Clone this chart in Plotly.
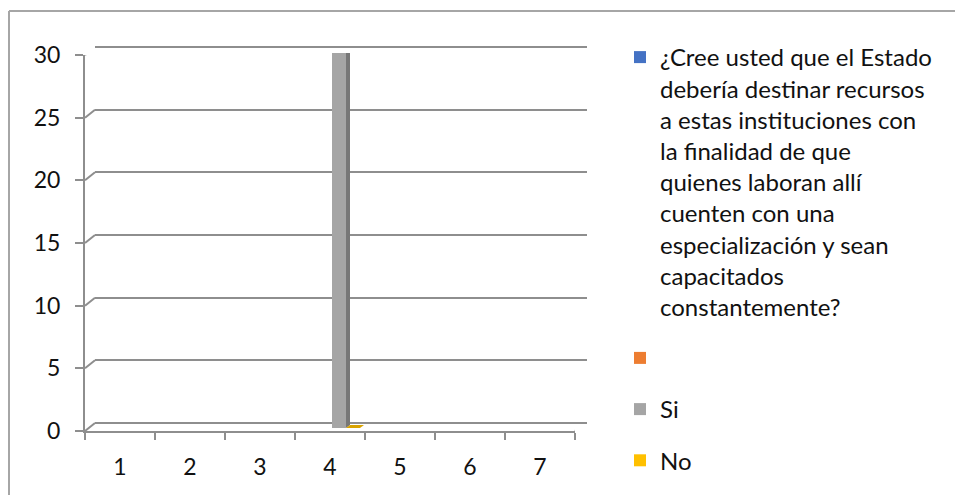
import plotly.graph_objects as go

# ---- datos ----
categorias = ["1", "2", "3", "4", "5", "6", "7"]
serie_pregunta = [None, None, None, None, None, None, None]
serie_vacia = [None, None, None, None, None, None, None]
serie_si = [None, None, None, 30, None, None, None]
serie_no = [None, None, None, 0, None, None, None]

nombre_pregunta = ("¿Cree usted que el Estado<br>debería destinar recursos<br>"
                   "a estas instituciones con<br>la finalidad de que<br>"
                   "quienes laboran allí<br>cuenten con una<br>"
                   "especialización y sean<br>capacitados<br>constantemente?")
nombres = [nombre_pregunta, " ", "Si", "No"]
series = [serie_pregunta, serie_vacia, serie_si, serie_no]
colores = ["#4472C4", "#ED7D31", "#A5A5A5", "#FFC000"]
color_lado = ["#2F5597", "#C55A11", "#777777", "#BF9000"]
color_techo = ["#3A62AE", "#D86A20", "#8C8C8C", "#D9A300"]
marcas_y = [0, 5, 10, 15, 20, 25, 30]

# ---- geometria (px) ----
W, H = 955, 495
ML, MT = 85, 40
PW, PH = 505, 391            # area de trazado: x 85..590, y 40..431
Y_MAX = 30
N_CAT = len(categorias)
BARGAP = 0.2
SLOT = (1 - BARGAP) / len(series)

GRIS = "#8E8E8E"
TEXTO = "#111111"
FUENTE = "Lato"


def dom_x(x0, x1):
    return [(x0 - ML) / PW, (x1 - ML) / PW]


def dom_y(y_abajo, y_arriba):
    return [(MT + PH - y_abajo) / PH, (MT + PH - y_arriba) / PH]


# cara frontal (ejes): x 85..575, valor 0 en y=431, valor 30 en y=55
FX0, FX1, FY0, FY30 = 85, 575, 431, 55
# pared del fondo: x 95..587, valor 0 en y=423, valor 30 en y=47
BX0, BX1, BY0, BY30 = 95, 587, 423, 47
# plano de las columnas: x 87..577, valor 0 en y=428, valor 30 en y=53
CX0, CX1, CY0, CY30 = 87, 577, 428, 53

CAT_PX = (CX1 - CX0) / N_CAT
SLOT_PX = SLOT * CAT_PX
UNID = Y_MAX / (CY0 - CY30)       # unidades por pixel
LADO_PX = 4
LADO_DY = 3 * UNID

# margen de rango para que las lineas de 0 y 30 del fondo se dibujen
PAD = 0.4
esc_fondo = (BY0 - BY30) / Y_MAX

fig = go.Figure()

# subgrafico de la pared del fondo (solo cuadricula)
fig.add_trace(go.Scatter(x=[], y=[], xaxis="x", yaxis="y", mode="markers",
                         showlegend=False, hoverinfo="skip"))

for k, (nombre, valores, color) in enumerate(zip(nombres, series, colores)):
    fig.add_trace(go.Bar(
        x=categorias, y=valores, name=nombre, legendgroup=f"g{k}",
        marker=dict(color=color, line=dict(width=0)),
        xaxis="x2", yaxis="y2",
    ))

shapes = []

# caras laterales y superiores de las columnas
for i, valores in enumerate(series):
    for c, v in enumerate(valores):
        if v is None:
            continue
        borde_der = c - (1 - BARGAP) / 2 + SLOT * (i + 1)
        if v > 0:
            shapes.append(dict(
                type="path", xref="x2", yref="y2", xsizemode="pixel", xanchor=borde_der,
                path=f"M0,0 L{LADO_PX},{LADO_DY} L{LADO_PX},{v + LADO_DY} L0,{v} Z",
                fillcolor=color_lado[i], line=dict(width=0),
            ))
        shapes.append(dict(
            type="path", xref="x2", yref="y2", xsizemode="pixel", xanchor=borde_der,
            path=(f"M{-SLOT_PX},{v} L0,{v} L{LADO_PX},{v + LADO_DY} "
                  f"L{-SLOT_PX + LADO_PX},{v + LADO_DY} Z"),
            fillcolor=color_techo[i], line=dict(width=0),
        ))

# uniones entre el eje frontal y la pared del fondo
esc_frente = (FY0 - FY30) / Y_MAX
for v in marcas_y:
    dy = (FY0 - v * esc_frente) - (BY0 - v * esc_fondo)
    shapes.append(dict(
        type="line", xref="x3", yref="y3", xsizemode="pixel", ysizemode="pixel",
        xanchor=0.5, yanchor=v, x0=0, x1=BX0 - FX0, y0=0, y1=dy,
        line=dict(color=GRIS, width=2),
    ))
shapes.append(dict(
    type="line", xref="x3", yref="y3", xsizemode="pixel", ysizemode="pixel",
    xanchor=N_CAT + 0.5, yanchor=0, x0=0, x1=BX1 - FX1, y0=0, y1=FY0 - BY0,
    line=dict(color=GRIS, width=2),
))

# marco exterior
px = lambda X: (X - ML) / PW
py = lambda Y: (MT + PH - Y) / PH
shapes.append(dict(type="line", xref="paper", yref="paper",
                   x0=px(9), x1=px(970), y0=py(11), y1=py(11),
                   line=dict(color="#A6A6A6", width=2)))
shapes.append(dict(type="line", xref="paper", yref="paper",
                   x0=px(9), x1=px(9), y0=py(11), y1=py(510),
                   line=dict(color="#A6A6A6", width=2)))

fig.update_layout(
    width=W, height=H,
    margin=dict(l=ML, r=W - ML - PW, t=MT, b=H - MT - PH, pad=0),
    paper_bgcolor="white", plot_bgcolor="rgba(0,0,0,0)",
    font=dict(family=FUENTE, size=23, color=TEXTO),
    barmode="group", bargap=BARGAP, bargroupgap=0,
    showlegend=True,
    legend=dict(
        x=px(620), y=py(35), xanchor="left", yanchor="top",
        font=dict(family=FUENTE, size=24, color=TEXTO),
        valign="top", tracegroupgap=17, traceorder="grouped",
        itemclick=False, itemdoubleclick=False,
        bgcolor="rgba(0,0,0,0)", maxheight=480,
    ),
    shapes=shapes,
    # pared del fondo
    xaxis=dict(domain=dom_x(BX0, BX1), anchor="y", range=[0, 1],
               showgrid=False, zeroline=False, showticklabels=False, ticks=""),
    yaxis=dict(domain=dom_y(BY0 + PAD * esc_fondo, BY30 - PAD * esc_fondo), anchor="x",
               range=[-PAD, Y_MAX + PAD],
               tickmode="array", tickvals=marcas_y,
               showgrid=True, gridcolor=GRIS, gridwidth=2,
               zeroline=False, showticklabels=False, ticks=""),
    # columnas
    xaxis2=dict(domain=dom_x(CX0, CX1), anchor="y2",
                type="category", categoryarray=categorias, range=[-0.5, N_CAT - 0.5],
                visible=False),
    yaxis2=dict(domain=dom_y(CY0, CY30), anchor="x2",
                range=[0, Y_MAX], visible=False),
    # ejes frontales
    xaxis3=dict(domain=dom_x(FX0, FX1), anchor="y3", range=[0.5, N_CAT + 0.5],
                tickmode="array", tickvals=[1, 2, 3, 4, 5, 6, 7], ticktext=categorias,
                ticks="", showgrid=False, zeroline=False,
                showline=True, linecolor=GRIS, linewidth=2,
                ticklabelstandoff=14,
                minor=dict(tickmode="array", tickvals=[0.5, 1.5, 2.5, 3.5, 4.5, 5.5, 6.5, 7.5],
                           ticks="outside", ticklen=7, tickcolor=GRIS, tickwidth=2,
                           showgrid=False)),
    yaxis3=dict(domain=dom_y(FY0, FY30), anchor="x3", range=[0, Y_MAX],
                tickmode="array", tickvals=marcas_y,
                ticks="outside", ticklen=8, tickcolor=GRIS, tickwidth=2,
                showgrid=False, zeroline=False,
                showline=True, linecolor=GRIS, linewidth=2,
                ticklabelstandoff=10),
)

fig.write_html("out.html")
